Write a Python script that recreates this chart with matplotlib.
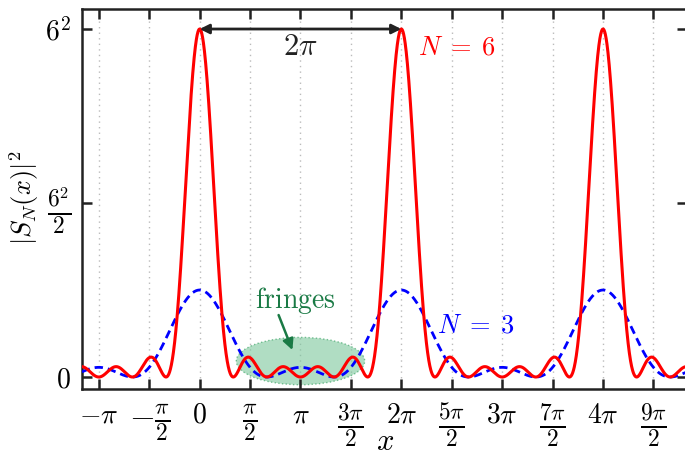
import numpy as np
import matplotlib
matplotlib.use("Agg")
import matplotlib.pyplot as plt
from matplotlib.patches import Ellipse

plt.rcParams['font.family'] = 'serif'
plt.rcParams['mathtext.fontset'] = 'cm'

# number of slits for each curve and its style
N_VALUES = [6, 3]
COLORS = ['#ff0000', '#0000ff']
STYLES = ['-', '--']

X_MIN = -7 * np.pi / 6
X_MAX = 29 * np.pi / 6

XTICKS = np.arange(-2, 10) * np.pi / 2
XTICK_LABELS = [r'$-\pi$', r'$-\frac{\pi}{2}$', r'$0$', r'$\frac{\pi}{2}$', r'$\pi$',
                r'$\frac{3\pi}{2}$', r'$2\pi$', r'$\frac{5\pi}{2}$', r'$3\pi$',
                r'$\frac{7\pi}{2}$', r'$4\pi$', r'$\frac{9\pi}{2}$']
YTICKS = [0, 18, 36]
YTICK_LABELS = [r'$0$', r'$\frac{6^2}{2}$', r'$6^2$']


def intensity(x, n):
    s = np.sin(x / 2)
    out = np.full_like(x, float(n * n))
    ok = np.abs(s) > 1e-9
    out[ok] = (np.sin(n * x[ok] / 2) / s[ok]) ** 2
    return out


x = np.linspace(X_MIN, X_MAX, 3000)

fig = plt.figure(figsize=(6.85, 4.57), dpi=100)
ax = fig.add_axes([0.1197, 0.1488, 0.8833, 0.8315])

for xt in XTICKS:
    ax.axvline(xt, color='#bbbbbb', lw=1.0, ls=(0, (1, 3)), zorder=0)

ell = Ellipse((np.pi, 1.65), 4.0, 4.9, facecolor='#7cc79c', alpha=0.6,
              edgecolor='#2e9e5b', lw=1.0, ls=':', zorder=1)
ax.add_patch(ell)

ax.plot(x, intensity(x, N_VALUES[1]), color=COLORS[1], ls=STYLES[1], lw=2.0,
        dashes=(3, 1.8), zorder=3)
ax.plot(x, intensity(x, N_VALUES[0]), color=COLORS[0], ls=STYLES[0], lw=2.2, zorder=4)

ax.set_xlim(X_MIN, X_MAX)
ax.set_ylim(-1.24, 38.07)
ax.set_xticks(XTICKS)
ax.set_xticklabels(XTICK_LABELS, fontsize=20)
ax.set_yticks(YTICKS)
ax.set_yticklabels(YTICK_LABELS, fontsize=20)
# fractions are drawn at reduced size by mathtext, so bump them up a little
for lbl in ax.get_xticklabels() + ax.get_yticklabels():
    if 'frac' in lbl.get_text():
        lbl.set_fontsize(24)
ax.tick_params(direction='in', length=7, width=1.8, top=True, right=True,
               color='#222222', pad=8)
ax.tick_params(axis='x', pad=9)
for sp in ax.spines.values():
    sp.set_linewidth(1.8)
    sp.set_color('#222222')

# peak spacing arrow
ax.annotate('', xy=(0, 36), xytext=(2 * np.pi, 36),
            arrowprops=dict(arrowstyle='<|-|>', color='#222222', lw=2.0,
                            mutation_scale=14, shrinkA=0, shrinkB=0), zorder=5)
ax.text(np.pi, 34.2, r'$2\pi$', fontsize=22, ha='center', va='center', color='#222222')

ax.text(6.8, 34.1, r'$N\;=\;6$', fontsize=19, color=COLORS[0], ha='left', va='center')
ax.text(7.4, 5.4, r'$N\;=\;3$', fontsize=19, color=COLORS[1], ha='left', va='center')

ax.text(2.99, 7.9, r'$\mathrm{fringes}$', fontsize=20, color='#1a7a45',
        ha='center', va='center')
ax.annotate('', xy=(2.89, 2.79), xytext=(2.46, 6.41),
            arrowprops=dict(arrowstyle='-|>', color='#1a7a45', lw=1.8,
                            mutation_scale=16, shrinkA=0, shrinkB=0), zorder=5)

fig.text(24 / 685, 1 - 198 / 457, r'$|S_N(x)|^2$', fontsize=19, rotation=90,
         ha='center', va='center')
fig.text(385 / 685, 1 - 450 / 457, r'$x$', fontsize=22, ha='center', va='baseline')

fig.savefig('out.png', dpi=100)
